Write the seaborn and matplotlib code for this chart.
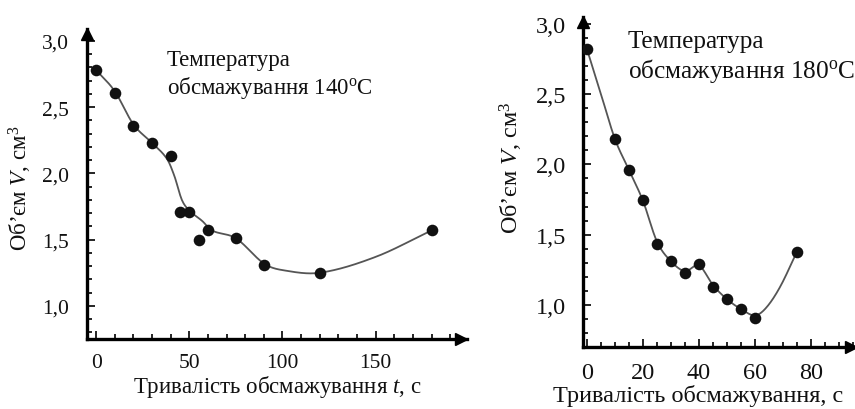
import numpy as np
import pandas as pd
import matplotlib
matplotlib.use("Agg")
import matplotlib.pyplot as plt
import seaborn as sns
from matplotlib.ticker import MultipleLocator, FuncFormatter

# ---- data: 140 C ----
t_140 = [0, 10, 20, 30, 40, 45, 50, 55, 60, 75, 90, 120, 180]
v_140 = [2.78, 2.61, 2.36, 2.23, 2.13, 1.71, 1.71, 1.50, 1.57, 1.51, 1.31, 1.25, 1.57]
curve_t_140 = [0, 10, 20, 30, 38, 42, 46, 50, 57, 62, 75, 90, 100, 120, 150, 180]
curve_v_140 = [2.78, 2.62, 2.37, 2.23, 2.11, 1.98, 1.80, 1.72, 1.64, 1.57, 1.51, 1.32, 1.27, 1.25, 1.37, 1.57]

# ---- data: 180 C ----
t_180 = [0, 10, 15, 20, 25, 30, 35, 40, 45, 50, 55, 60, 75]
v_180 = [2.82, 2.18, 1.96, 1.75, 1.43, 1.31, 1.23, 1.29, 1.13, 1.04, 0.97, 0.91, 1.38]
curve_t_180 = [0, 5, 10, 15, 20, 25, 30, 35, 40, 45, 50, 55, 60, 64, 69, 75]
curve_v_180 = [2.82, 2.50, 2.18, 1.96, 1.74, 1.45, 1.31, 1.24, 1.28, 1.14, 1.04, 0.97, 0.925, 0.98, 1.13, 1.38]

ylabel = "Об’єм $V$, см$^3$"
xlabel_140 = "Тривалість обсмажування $t$, с"
xlabel_180 = "Тривалість обсмажування, с"
note_140 = "Температура\nобсмажування 140$^{\\rm o}$C"
note_180 = "Температура\nобсмажування 180$^{\\rm o}$C"

sns.set_theme(style="white")
plt.rcParams["font.family"] = ["Liberation Serif", "DejaVu Serif"]
plt.rcParams["mathtext.fontset"] = "custom"
plt.rcParams["mathtext.rm"] = "Liberation Serif"
plt.rcParams["mathtext.it"] = "Liberation Serif:italic"
plt.rcParams["mathtext.bf"] = "Liberation Serif:bold"


def smooth(xs, ys, n=400):
    x = np.asarray(xs, float)
    y = np.asarray(ys, float)
    m = np.empty_like(y)
    m[1:-1] = (y[2:] - y[:-2]) / (x[2:] - x[:-2])
    m[0] = (y[1] - y[0]) / (x[1] - x[0])
    m[-1] = (y[-1] - y[-2]) / (x[-1] - x[-2])
    xx = np.linspace(x[0], x[-1], n)
    idx = np.clip(np.searchsorted(x, xx) - 1, 0, len(x) - 2)
    h = x[idx + 1] - x[idx]
    s = (xx - x[idx]) / h
    h00 = 2 * s**3 - 3 * s**2 + 1
    h10 = s**3 - 2 * s**2 + s
    h01 = -2 * s**3 + 3 * s**2
    h11 = s**3 - s**2
    yy = h00 * y[idx] + h10 * h * m[idx] + h01 * y[idx + 1] + h11 * h * m[idx + 1]
    return pd.DataFrame({"t": xx, "v": yy})


fmt = FuncFormatter(lambda v, p: f"{v:.1f}".replace(".", ","))

fig = plt.figure(figsize=(8.55, 4.10), dpi=100)
W, H = 855, 410


def make_ax(x0, y_bottom, w, h):
    return fig.add_axes([x0 / W, (H - y_bottom) / H, w / W, h / H])


ax1 = make_ax(87, 340, 380, 310)
ax2 = make_ax(583, 348, 272, 330)

# (axes, t, v, curve t, curve v, xlim, ylim, x major, x minor, ypad, xpad, note, note pos, text size, tick size)
panels = [
    (ax1, t_140, v_140, curve_t_140, curve_v_140, (-4.9, 199.0), (0.75, 3.09), 50, 10, 13, 10,
     note_140, (167, 50), 16.5, 15.5),
    (ax2, t_180, v_180, curve_t_180, curve_v_180, (-1.43, 95.7), (0.70, 3.05), 20, 5, 12, 11,
     note_180, (628, 31), 18.2, 17.5),
]

for ax, tx, vx, ct, cv, xl, yl, xmaj, xmin, ypad, xpad, note, npos, tsz, ksz in panels:
    ax.set_facecolor("white")
    sns.lineplot(data=smooth(ct, cv), x="t", y="v", ax=ax, color="#555555", lw=1.3,
                 sort=False, estimator=None, zorder=2)
    sns.scatterplot(x=tx, y=vx, ax=ax, color="#111111", s=70, edgecolor="#111111",
                    linewidth=0, zorder=3)
    ax.set_xlim(*xl)
    ax.set_ylim(*yl)
    ax.set_xlabel("")
    ax.set_ylabel("")
    for s in ["top", "right"]:
        ax.spines[s].set_visible(False)
    for s in ["left", "bottom"]:
        ax.spines[s].set_color("black")
        ax.spines[s].set_linewidth(2.4)
    ax.plot(0.985, 0, ">", color="black", ms=8, transform=ax.transAxes, clip_on=False)
    ax.plot(0, 0.985, "^", color="black", ms=8, transform=ax.transAxes, clip_on=False)
    ax.yaxis.set_major_locator(MultipleLocator(0.5))
    ax.yaxis.set_minor_locator(MultipleLocator(0.1))
    ax.xaxis.set_major_locator(MultipleLocator(xmaj))
    ax.xaxis.set_minor_locator(MultipleLocator(xmin))
    ax.yaxis.set_major_formatter(fmt)
    ax.tick_params(which="both", direction="in", color="black", width=1.2,
                   bottom=True, left=True, labelsize=ksz, labelcolor="#111111")
    ax.tick_params(which="major", length=6)
    ax.tick_params(which="minor", length=3.5)
    ax.tick_params(axis="y", pad=ypad)
    ax.tick_params(axis="x", pad=xpad)
    ax.grid(False)
    fig.text(npos[0] / W, 1 - npos[1] / H, note, fontsize=tsz, ha="left", va="top",
             linespacing=1.2, color="#111111")

fig.text(277 / W, 1 - 387 / H, xlabel_140, fontsize=16.5, ha="center", va="center", color="#111111")
fig.text(553 / W, 1 - 396 / H, xlabel_180, fontsize=17.5, ha="left", va="center", color="#111111")
fig.text(20 / W, 1 - 188 / H, ylabel, fontsize=16.5, ha="center", va="center", rotation=90, color="#111111")
fig.text(511 / W, 1 - 168 / H, ylabel, fontsize=17.5, ha="center", va="center", rotation=90, color="#111111")

fig.savefig("out.png", dpi=100, facecolor="white")
